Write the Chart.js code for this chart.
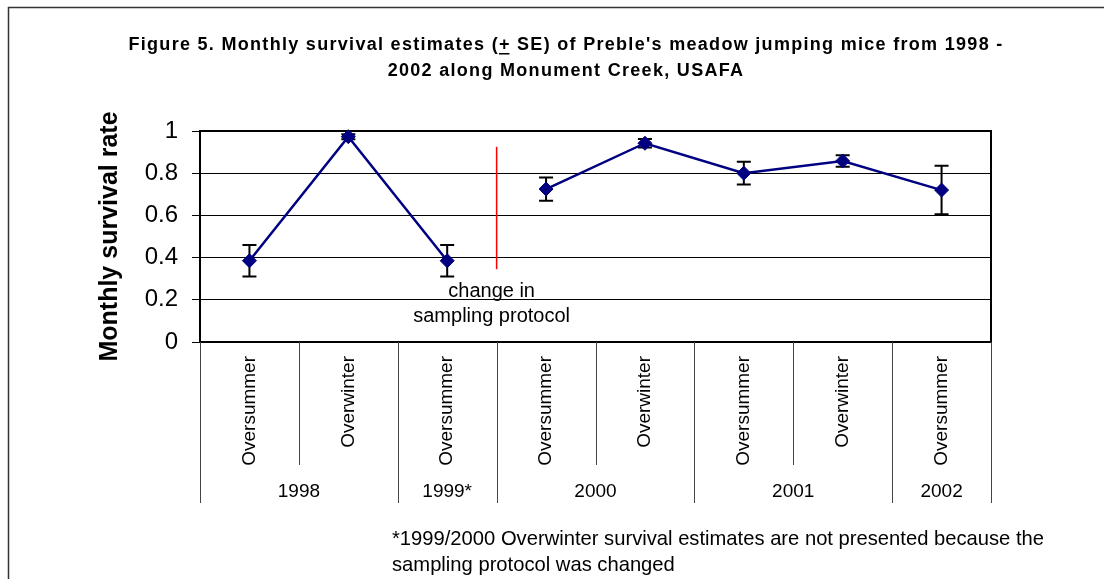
<!DOCTYPE html>
<html>
<head>
<meta charset="utf-8">
<script src="https://cdn.jsdelivr.net/npm/chart.js@4.4.1/dist/chart.umd.min.js"></script>
<style>
  html, body { margin: 0; padding: 0; background: #fff; }
  #wrap { width: 1104px; height: 579px; position: relative; }
</style>
</head>
<body>
<div id="wrap"><canvas id="c" width="1104" height="579"></canvas></div>
<script>
// ---- data ----
const categories = ['Oversummer', 'Overwinter', 'Oversummer', 'Oversummer', 'Overwinter', 'Oversummer', 'Overwinter', 'Oversummer'];
const yearLabels = ['1998', '1999*', '2000', '2001', '2002'];
const yearSpans = [2, 1, 2, 2, 1];
const survival = [0.385, 0.973, 0.385, 0.725, 0.942, 0.800, 0.858, 0.720];
const stdErr = [0.075, 0.012, 0.075, 0.055, 0.020, 0.054, 0.027, 0.115];
const protocolBreakAfter = 2;           // line not drawn between index 2 and 3
const protocolLineRange = [0.345, 0.925];
const protocolNote = ['change in', 'sampling protocol'];
const protocolNoteValues = [0.24, 0.12];
const titleLines = ["Figure 5. Monthly survival estimates (+ SE) of Preble's meadow jumping mice from 1998 -", "2002 along Monument Creek, USAFA"];
const footnote = ['*1999/2000 Overwinter survival estimates are not presented because the', 'sampling protocol was changed'];
const yAxisTitle = 'Monthly survival rate';

const NAVY = '#000080';
const FONT = '"Liberation Sans", Arial, sans-serif';

const decor = {
  id: 'decor',
  beforeDraw(chart) {
    const ctx = chart.ctx;
    ctx.save();
    ctx.fillStyle = '#fff';
    ctx.fillRect(0, 0, chart.width, chart.height);
    ctx.strokeStyle = '#333';
    ctx.lineWidth = 1.5;
    ctx.beginPath();
    ctx.moveTo(8.5, chart.height + 2);
    ctx.lineTo(8.5, 7.5);
    ctx.lineTo(chart.width + 2, 7.5);
    ctx.stroke();
    ctx.restore();
  },
  beforeDatasetsDraw(chart) {
    const ctx = chart.ctx;
    const a = chart.chartArea;
    const x = chart.scales.x, y = chart.scales.y;
    ctx.save();
    // plot border
    ctx.strokeStyle = '#000';
    ctx.lineWidth = 2;
    ctx.strokeRect(a.left, a.top, a.right - a.left, a.bottom - a.top);
    // protocol change line
    const bx = (x.getPixelForValue(protocolBreakAfter) + x.getPixelForValue(protocolBreakAfter + 1)) / 2;
    ctx.strokeStyle = '#ff0000';
    ctx.lineWidth = 1.5;
    ctx.beginPath();
    ctx.moveTo(bx, y.getPixelForValue(protocolLineRange[1]));
    ctx.lineTo(bx, y.getPixelForValue(protocolLineRange[0]));
    ctx.stroke();
    ctx.fillStyle = '#000';
    ctx.font = '20px ' + FONT;
    ctx.textAlign = 'center';
    ctx.textBaseline = 'middle';
    protocolNote.forEach((t, i) => ctx.fillText(t, bx - 5, y.getPixelForValue(protocolNoteValues[i])));
    // error bars
    ctx.strokeStyle = '#000';
    ctx.lineWidth = 2;
    survival.forEach((v, i) => {
      const px = x.getPixelForValue(i);
      const hi = y.getPixelForValue(v + stdErr[i]);
      const lo = y.getPixelForValue(v - stdErr[i]);
      ctx.beginPath();
      ctx.moveTo(px, hi); ctx.lineTo(px, lo);
      ctx.moveTo(px - 7, hi); ctx.lineTo(px + 7, hi);
      ctx.moveTo(px - 7, lo); ctx.lineTo(px + 7, lo);
      ctx.stroke();
    });
    ctx.restore();
  },
  afterDraw(chart) {
    const ctx = chart.ctx;
    const a = chart.chartArea;
    const x = chart.scales.x;
    ctx.save();
    // title
    ctx.fillStyle = '#000';
    ctx.font = 'bold 18px ' + FONT;
    ctx.letterSpacing = '1.3px';
    ctx.textBaseline = 'middle';
    ctx.textAlign = 'left';
    const cx = 566;
    const ys = [45, 71];
    titleLines.forEach((t, i) => {
      const w = ctx.measureText(t).width;
      const x0 = cx - w / 2;
      ctx.fillText(t, x0, ys[i]);
      const k = t.indexOf('(+');
      if (k >= 0) {
        const ux = x0 + ctx.measureText(t.slice(0, k + 1)).width;
        const uw = ctx.measureText('+').width - 1.3;
        ctx.fillRect(ux, ys[i] + 8, uw, 1.5);
      }
    });
    ctx.letterSpacing = '0px';
    // category separators
    const step = x.getPixelForValue(1) - x.getPixelForValue(0);
    const boundary = i => x.getPixelForValue(i) - step / 2;
    const yearEdges = [0];
    yearSpans.forEach(s => yearEdges.push(yearEdges[yearEdges.length - 1] + s));
    ctx.strokeStyle = '#444';
    ctx.lineWidth = 1;
    for (let i = 0; i <= categories.length; i++) {
      const bx = Math.round(boundary(i)) + 0.5;
      const isYear = yearEdges.includes(i);
      ctx.beginPath();
      ctx.moveTo(bx, a.bottom);
      ctx.lineTo(bx, isYear ? a.bottom + 161 : a.bottom + 123);
      ctx.stroke();
    }
    // year labels
    ctx.font = '19px ' + FONT;
    ctx.textAlign = 'center';
    ctx.fillStyle = '#000';
    yearLabels.forEach((t, i) => {
      const mx = (boundary(yearEdges[i]) + boundary(yearEdges[i + 1])) / 2;
      ctx.fillText(t, mx, a.bottom + 150);
    });
    // footnote
    ctx.font = '20.2px ' + FONT;
    ctx.textAlign = 'left';
    ctx.fillText(footnote[0], 392, 539);
    ctx.fillText(footnote[1], 392, 565);
    ctx.restore();
  }
};

new Chart(document.getElementById('c'), {
  type: 'line',
  data: {
    labels: categories,
    datasets: [{
      data: survival,
      borderColor: NAVY,
      backgroundColor: NAVY,
      borderWidth: 2.5,
      pointStyle: 'rectRot',
      pointRadius: 7,
      pointBorderWidth: 1,
      pointBackgroundColor: NAVY,
      pointBorderColor: NAVY,
      tension: 0,
      clip: false,
      segment: {
        borderColor: ctx => ctx.p0DataIndex === protocolBreakAfter ? 'rgba(0,0,0,0)' : NAVY
      }
    }]
  },
  options: {
    responsive: false,
    animation: false,
    events: [],
    layout: { padding: { top: 131, right: 113, bottom: 0, left: 0 } },
    plugins: { legend: { display: false }, title: { display: false }, tooltip: { enabled: false } },
    scales: {
      x: {
        type: 'category',
        offset: true,
        grid: { display: false },
        border: { display: false },
        ticks: {
          autoSkip: false,
          maxRotation: 90,
          minRotation: 90,
          padding: 6,
          color: '#000',
          font: { family: FONT, size: 19 }
        },
        afterFit(scale) { scale.height = 237; }
      },
      y: {
        min: 0,
        max: 1,
        ticks: {
          stepSize: 0.2,
          padding: 14,
          color: '#000',
          font: { family: FONT, size: 24 },
          callback: v => String(Number(v.toFixed(1)))
        },
        grid: { color: '#000', lineWidth: 1, tickLength: 8, drawOnChartArea: true },
        border: { display: true, color: '#000', width: 2 },
        title: {
          display: true,
          text: yAxisTitle,
          color: '#000',
          font: { family: FONT, size: 25, weight: 'bold' },
          padding: { top: 95, bottom: 0 }
        },
        afterFit(scale) { scale.width = 200; }
      }
    }
  },
  plugins: [decor]
});
</script>
</body>
</html>
